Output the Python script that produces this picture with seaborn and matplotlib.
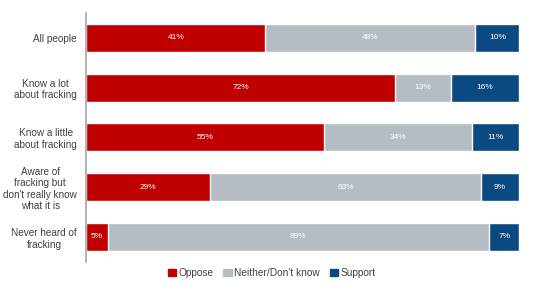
import matplotlib
matplotlib.use('Agg')
import matplotlib.pyplot as plt
import seaborn as sns
import pandas as pd
import numpy as np

# Datos
grupos = ['All people', 'Know a lot\nabout fracking', 'Know a little\nabout fracking',
          "Aware of\nfracking but\ndon't really know\nwhat it is", 'Never heard of\nfracking']
oppose = [41, 72, 55, 29, 5]
neither = [48, 13, 34, 63, 89]
support = [10, 16, 11, 9, 7]
series = ['Oppose', "Neither/Don't know", 'Support']
colores = ['#C00000', '#B5BDC3', '#0B4A80']

sns.set_theme(style='white')
plt.rcParams['font.family'] = ['Liberation Sans', 'DejaVu Sans']

df = pd.DataFrame({'grupo': grupos, 'Oppose': oppose,
                   "Neither/Don't know": neither, 'Support': support})
total = df[series].sum(axis=1)
partes = df[series].div(total, axis=0) * 100  # cada fila normalizada a 100
acum = partes.cumsum(axis=1)

fig = plt.figure(figsize=(5.38, 3.0), dpi=100)
ax = fig.add_axes([0.16, 0.127, 0.805, 0.83])

# Barras apiladas: se dibuja la suma acumulada de mayor a menor
for s, c in reversed(list(zip(series, colores))):
    sns.barplot(x=acum[s], y=df['grupo'], color=c, width=0.56, orient='h',
                ax=ax, saturation=1, label=s)

# Etiquetas dentro de cada segmento
for i in range(len(df)):
    izq = 0
    for s in series:
        ancho = partes.loc[i, s]
        ax.text(izq + ancho / 2, i, f"{df.loc[i, s]}%", ha='center', va='center',
                color='white', fontsize=6)
        izq += ancho

ax.set_xlim(0, 100)
ax.set_ylim(4.5, -0.5)
ax.set_xlabel('')
ax.set_ylabel('')
ax.set_xticks([])
ax.tick_params(axis='y', length=0, pad=6.5, labelsize=7.2, labelcolor='#404040')
for etiqueta in ax.get_yticklabels():
    etiqueta.set_multialignment('center')
for lado in ['top', 'right', 'bottom']:
    ax.spines[lado].set_visible(False)
ax.spines['left'].set_color('#A6A6A6')
ax.spines['left'].set_linewidth(1.2)

# Leyenda
if ax.legend_:
    ax.legend_.remove()
handles = [plt.Rectangle((0, 0), 1, 1, color=c) for c in colores]
fig.legend(handles, series, loc='center', bbox_to_anchor=(0.505, 0.09), ncol=3,
           frameon=False, fontsize=7.3, handlelength=0.8, handleheight=0.8,
           handletextpad=0.25, columnspacing=1.0, labelcolor='#404040')

fig.savefig('out.png', dpi=100)
